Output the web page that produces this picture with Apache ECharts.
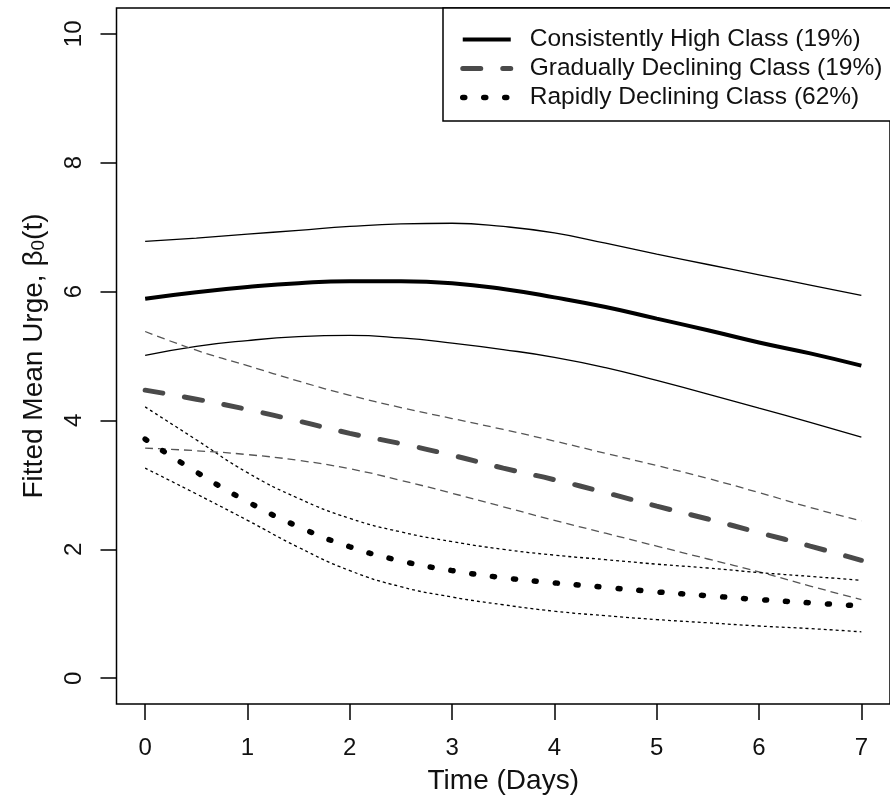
<!DOCTYPE html>
<html>
<head>
<meta charset="utf-8">
<script src="https://cdn.jsdelivr.net/npm/echarts@6/dist/echarts.min.js"></script>
<style>
html,body{margin:0;padding:0;background:#fff;}
#chart{width:890px;height:804px;}
</style>
</head>
<body>
<div id="chart"></div>
<script>
// Time points (days)
const times = [0, 0.5, 1, 1.5, 2, 2.5, 3, 3.5, 4, 4.5, 5, 5.5, 6, 6.5, 7];
const xTicks = [0, 1, 2, 3, 4, 5, 6, 7];
const yTicks = [0, 2, 4, 6, 8, 10];

// Consistently High Class
const highMean  = [5.89, 5.99, 6.07, 6.13, 6.16, 6.16, 6.13, 6.04, 5.91, 5.76, 5.58, 5.40, 5.21, 5.04, 4.85];
const highUpper = [6.78, 6.83, 6.89, 6.95, 7.01, 7.05, 7.06, 7.01, 6.91, 6.75, 6.58, 6.42, 6.26, 6.10, 5.94];
const highLower = [5.01, 5.15, 5.24, 5.30, 5.32, 5.28, 5.20, 5.10, 4.98, 4.82, 4.62, 4.41, 4.19, 3.97, 3.74];

// Gradually Declining Class
const gradMean  = [4.47, 4.33, 4.17, 3.99, 3.80, 3.64, 3.46, 3.26, 3.08, 2.88, 2.67, 2.47, 2.26, 2.05, 1.83];
const gradUpper = [5.38, 5.09, 4.85, 4.61, 4.39, 4.20, 4.03, 3.86, 3.68, 3.49, 3.30, 3.10, 2.88, 2.65, 2.44];
const gradLower = [3.57, 3.53, 3.47, 3.38, 3.25, 3.07, 2.87, 2.66, 2.45, 2.25, 2.05, 1.85, 1.65, 1.43, 1.22];

// Rapidly Declining Class
const rapidMean  = [3.71, 3.20, 2.74, 2.35, 2.04, 1.82, 1.67, 1.56, 1.48, 1.41, 1.34, 1.28, 1.22, 1.17, 1.12];
const rapidUpper = [4.21, 3.70, 3.19, 2.79, 2.48, 2.27, 2.12, 2.00, 1.91, 1.84, 1.77, 1.71, 1.64, 1.58, 1.52];
const rapidLower = [3.26, 2.86, 2.45, 2.03, 1.67, 1.42, 1.26, 1.14, 1.04, 0.97, 0.91, 0.86, 0.81, 0.77, 0.72];

const legendNames = ['Consistently High Class (19%)', 'Gradually Declining Class (19%)', 'Rapidly Declining Class (62%)'];

const pair = arr => times.map((t, i) => [t, arr[i]]);
const FONT = "'Liberation Sans', Arial, sans-serif";

const meanStyles = [
  {color: '#000', width: 4, type: 'solid'},
  {color: '#4a4a4a', width: 5, type: [18, 22], cap: 'round'},
  {color: '#000', width: 5.5, type: [2, 19], cap: 'round'}
];

function line(name, arr, style, z) {
  return {
    name: name, type: 'line', data: pair(arr), smooth: 0.5,
    showSymbol: false, symbol: 'none', silent: true, z: z,
    itemStyle: {color: style.color},
    lineStyle: style
  };
}

const series = [
  line('hu', highUpper, {color: '#000', width: 1.3, type: 'solid'}, 2),
  line('hl', highLower, {color: '#000', width: 1.3, type: 'solid'}, 2),
  line('gu', gradUpper, {color: '#555', width: 1.3, type: [8, 5]}, 2),
  line('gl', gradLower, {color: '#555', width: 1.3, type: [8, 5]}, 2),
  line('ru', rapidUpper, {color: '#000', width: 1.3, type: [3, 3]}, 2),
  line('rl', rapidLower, {color: '#000', width: 1.3, type: [3, 3]}, 2),
  line(legendNames[0], highMean, meanStyles[0], 3),
  line(legendNames[1], gradMean, meanStyles[1], 3),
  line(legendNames[2], rapidMean, meanStyles[2], 3)
];

const chart = echarts.init(document.getElementById('chart'), null, {renderer: 'canvas'});
chart.setOption({
  animation: false,
  backgroundColor: '#fff',
  grid: {
    left: 116.5, top: 8, width: 782.5, height: 696,
    show: true, borderColor: '#000', borderWidth: 1.5, backgroundColor: 'transparent'
  },
  legend: {
    data: legendNames.map((n, i) => ({
      name: n,
      itemStyle: {opacity: 0},
      lineStyle: {width: meanStyles[i].width, type: meanStyles[i].type, cap: meanStyles[i].cap || 'butt', color: meanStyles[i].color}
    })),
    orient: 'vertical',
    left: 443, top: 8,
    padding: [19, 30, 11, 17],
    itemWidth: 48, itemHeight: 14, itemGap: 4,
    borderColor: '#000', borderWidth: 1.5,
    backgroundColor: '#fff',
    selectedMode: false,
    textStyle: {fontFamily: FONT, fontSize: 24.5, color: '#111', lineHeight: 24, padding: [0, 0, 0, 14]}
  },
  xAxis: {
    type: 'value', min: -0.28, max: 7.28,
    name: 'Time (Days)', nameLocation: 'middle', nameGap: 63,
    nameTextStyle: {fontFamily: FONT, fontSize: 28, color: '#111'},
    axisLine: {show: false, onZero: false},
    splitLine: {show: false},
    axisTick: {show: true, inside: false, length: 16, customValues: xTicks, lineStyle: {color: '#000', width: 1.5}},
    axisLabel: {customValues: xTicks, margin: 32, fontFamily: FONT, fontSize: 24, color: '#111'}
  },
  yAxis: {
    type: 'value', min: -0.4, max: 10.4,
    name: 'Fitted Mean Urge, β{s|0}(t)', nameLocation: 'middle', nameGap: 68,
    nameTextStyle: {fontFamily: FONT, fontSize: 28, color: '#111',
      rich: {s: {fontFamily: FONT, fontSize: 19, color: '#111', padding: [10, 0, 0, 0]}}},
    axisLine: {show: false, onZero: false},
    splitLine: {show: false},
    axisTick: {show: true, inside: false, length: 16, customValues: yTicks, lineStyle: {color: '#000', width: 1.5}},
    axisLabel: {customValues: yTicks, margin: 30, rotate: 90, align: 'center', verticalAlign: 'bottom',
      fontFamily: FONT, fontSize: 24, color: '#111'}
  },
  series: series
});
</script>
</body>
</html>
